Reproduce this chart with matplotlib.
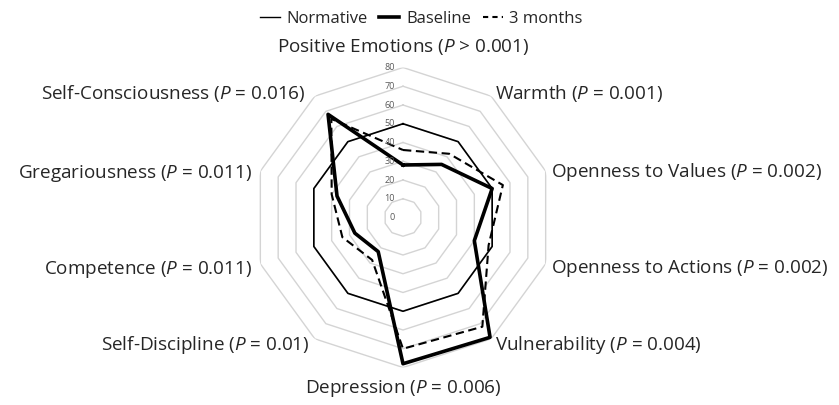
import numpy as np
import matplotlib
matplotlib.use("Agg")
import matplotlib.pyplot as plt
from matplotlib.lines import Line2D

plt.rcParams['font.family'] = ['Open Sans', 'DejaVu Sans']
plt.rcParams['mathtext.fontset'] = 'custom'
plt.rcParams['mathtext.rm'] = 'Open Sans'
plt.rcParams['mathtext.it'] = 'Open Sans:italic'

categories = ["Positive Emotions", "Warmth", "Openness to Values", "Openness to Actions",
              "Vulnerability", "Depression", "Self-Discipline", "Competence",
              "Gregariousness", "Self-Consciousness"]
p_labels = ["> 0.001", "= 0.001", "= 0.002", "= 0.002", "= 0.004", "= 0.006",
            "= 0.01", "= 0.011", "= 0.011", "= 0.016"]
normative = [50, 50, 50, 50, 50, 50, 50, 50, 50, 50]
baseline = [28, 35, 50, 40, 79, 78, 22.5, 27, 37, 68]
months3 = [36, 42, 56, 48, 72, 70, 28, 34, 40, 65]
r_ticks = [0, 10, 20, 30, 40, 50, 60, 70, 80]

# label layout offsets (pixels) from the end of each axis: (dx, dy, ha)
label_layout = [(0, 21, 'center'), (4, 3, 'left'), (5, -0.6, 'left'), (5, -4.4, 'left'),
                (4, -6, 'left'), (0, -21, 'center'), (-5, -6, 'right'), (-8, -6, 'right'),
                (-8, -2, 'right'), (-9, 3, 'right')]

W, H, DPI = 839, 405, 100
fig = plt.figure(figsize=(W / DPI, H / DPI), dpi=DPI)
cx, cy, R = 403, 217.5, 150
ax = fig.add_axes([(cx - R) / W, (H - cy - R) / H, 2 * R / W, 2 * R / H], projection='polar')
ax.set_theta_zero_location('N')
ax.set_theta_direction(-1)
ax.set_ylim(0, r_ticks[-1])
ax.grid(False)
ax.spines['polar'].set_visible(False)
ax.set_xticks([])
ax.set_yticks([])
ax.patch.set_alpha(0)

n = len(categories)
theta = np.linspace(0, 2 * np.pi, n, endpoint=False)
theta_c = np.append(theta, theta[0])

# polygonal grid rings
for v in r_ticks[1:]:
    ax.plot(theta_c, [v] * (n + 1), color='#d4d4d4', lw=1.0, zorder=1)

def closed(vals):
    return list(vals) + [vals[0]]

ax.plot(theta_c, closed(normative), color='black', lw=1.2, zorder=3)
ax.plot(theta_c, closed(months3), color='black', lw=1.5, ls=(0, (4, 2.2)), zorder=4)
ax.plot(theta_c, closed(baseline), color='black', lw=2.6, zorder=5)

# radial tick labels
for v in r_ticks:
    ax.annotate(str(v), xy=(0, v), xytext=(-8, 0), textcoords='offset pixels',
                ha='right', va='center', fontsize=6.5, color='#595959', zorder=6)

# category labels
for t, cat, p, (dx, dy, ha) in zip(theta, categories, p_labels, label_layout):
    ax.annotate(cat + " ($\\it{P}$ " + p + ")", xy=(t, r_ticks[-1]), xytext=(dx, dy),
                textcoords='offset pixels', ha=ha, va='center', fontsize=13.6,
                color='#262626', annotation_clip=False)

handles = [Line2D([], [], color='black', lw=1.0),
           Line2D([], [], color='black', lw=2.6),
           Line2D([], [], color='black', lw=1.5, ls=(0, (2.5, 2)))]
fig.legend(handles, ["Normative", "Baseline", "3 months"], loc='upper center',
           bbox_to_anchor=(0.502, 1.01), ncol=3, frameon=False, fontsize=12,
           handlelength=1.2, handletextpad=0.4, columnspacing=0.7, labelcolor='#262626')

fig.savefig("out.png", dpi=DPI)
